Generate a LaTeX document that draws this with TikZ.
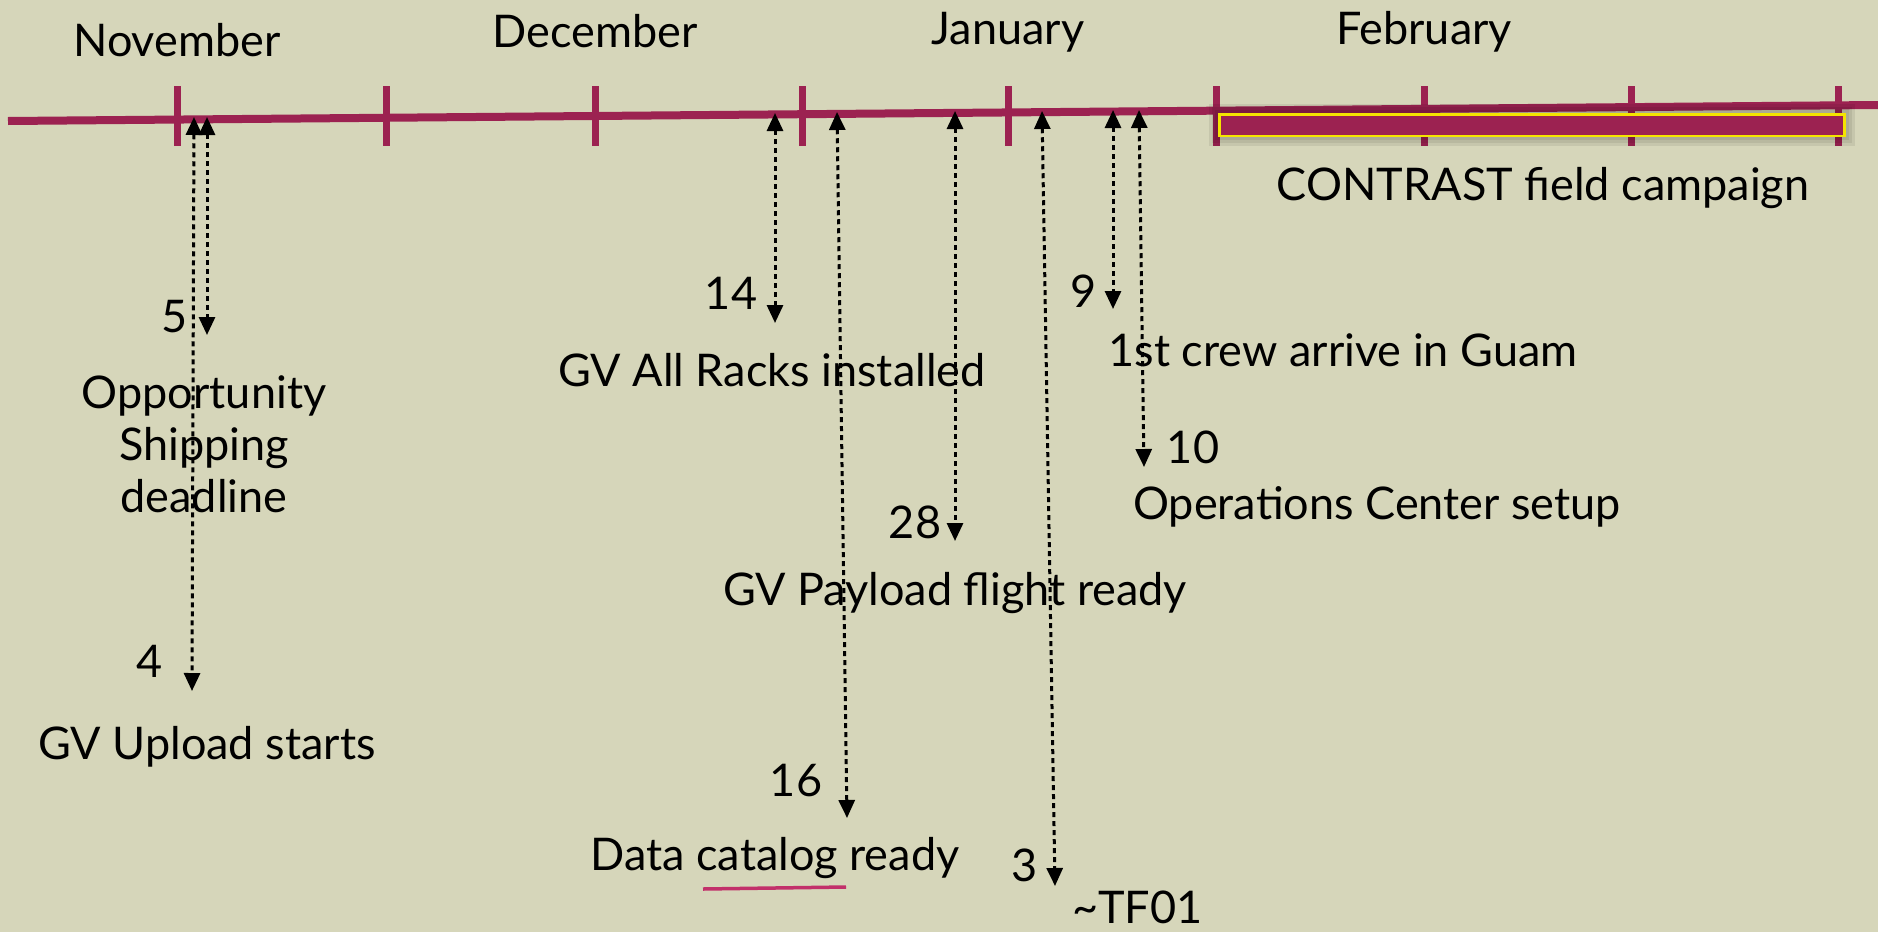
\documentclass[tikz,border=0pt]{standalone}
\usepackage{fontspec}
\setmainfont{Lato}
\usetikzlibrary{arrows.meta}
\definecolor{paper}{HTML}{D6D6BA}
\definecolor{berry}{HTML}{9C2251}
\definecolor{rose}{HTML}{C2306A}
\definecolor{gold}{HTML}{F4E400}

\begin{document}
\begin{tikzpicture}[x=1pt,y=-1pt,
    txt/.style={font=\fontsize{45}{52}\selectfont,inner sep=0pt},
    datearrow/.style={dash pattern=on 5pt off 4pt,line width=3pt,
      {Triangle[length=18pt,width=16pt]}-{Triangle[length=18pt,width=16pt]}}]
  \path[fill=paper] (0,0) rectangle (1878,932);
  \useasboundingbox (0,0) rectangle (1878,932);

  % Time axis, one tick every half month.
  \coordinate (axisstart) at (8,121);
  \coordinate (axisend) at (1878,105);
  \draw[berry,line width=8pt] (axisstart) -- (axisend);
  \foreach \x in {177,386,595,802,1008,1216,1424,1631,1838}
    \draw[berry,line width=7pt] (\x,86) -- (\x,146);

  % Month names above the axis.
  \node[txt] (nov) at (177,40) {November};
  \node[txt] (dec) at (595,31) {December};
  \node[txt] (jan) at (1008,32) {January};
  \node[txt] (feb) at (1424,32) {February};

  % Field campaign bar with a soft shadow.
  \foreach \s in {9,6,3}
    \fill[black,opacity=.07] (1218-\s,113-\s) rectangle (1846+\s,137+\s);
  \node[draw=gold,fill=berry,line width=2.5pt,inner sep=0pt,
    minimum width=625pt,minimum height=21.5pt] (campaign) at (1532,125) {};
  \node[txt] (campaigntext) at (1543,188) {CONTRAST field campaign};

  % Milestones: dotted connectors from the axis down to each date.
  \foreach \n/\xa/\ya/\xb/\yb in {4/194/117/192/691,5/207/117/207/335,
      14/775/113/775/323,16/837/112/847/818,28/955/111/955/541,
      3/1042/111/1055/886,9/1113/110/1113/309,10/1139/110/1144/467} {
    \coordinate (top\n) at (\xa,\ya);
    \coordinate (tip\n) at (\xb,\yb);
    \draw[datearrow] (top\n) -- (tip\n);
  }

  % Day numbers.
  \node[txt] (day4) at (150,661) {4};
  \node[txt] (day5) at (175,317) {5};
  \node[txt] (day14) at (731,293) {14};
  \node[txt] (day16) at (796,781) {16};
  \node[txt] (day28) at (915,522) {28};
  \node[txt] (day3) at (1025,865) {3};
  \node[txt] (day9) at (1084,291) {9};
  \node[txt] (day10) at (1193,447) {10};

  % Milestone texts.
  \node[txt,align=center] (shipping) at (204,444) {Opportunity\\Shipping\\deadline};
  \node[txt] (upload) at (207,747) {GV Upload starts};
  \node[txt] (racks) at (772,370) {GV All Racks installed};
  \node[txt] (catalog) at (775,858) {Data catalog ready};
  \node[txt] (payload) at (955,593) {GV Payload flight ready};
  \node[txt,anchor=west] (tf01) at (1072,907) {\textasciitilde TF01};
  \node[txt] (crew) at (1343,350) {1st crew arrive in Guam};
  \node[txt] (opscenter) at (1377,507) {Operations Center setup};

  \draw[rose,line width=3.5pt] (703,889) -- (846,887);
\end{tikzpicture}
\end{document}
